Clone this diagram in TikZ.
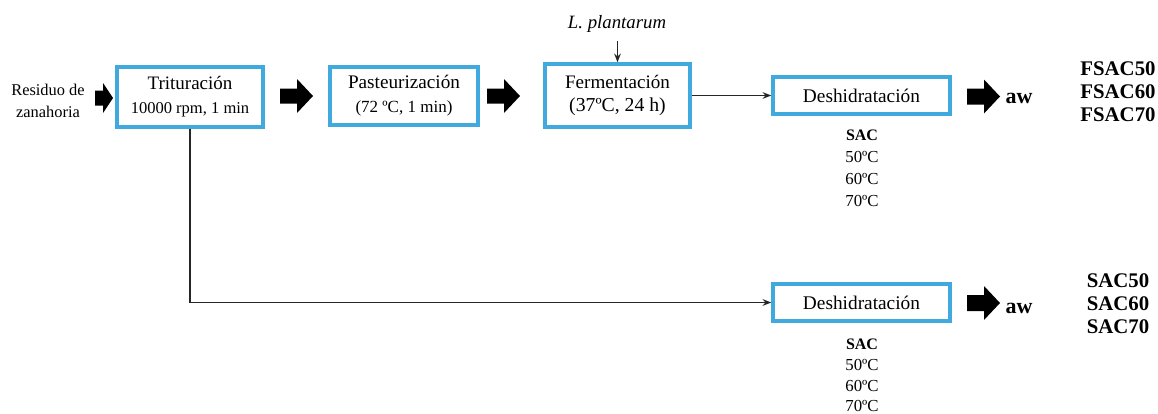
\documentclass[tikz,border=0pt]{standalone}
\usepackage{fontspec}
\setmainfont{Liberation Serif}
\usetikzlibrary{arrows.meta}
\definecolor{boxblue}{RGB}{64,170,222}
\newcommand\fsz[1]{\fontsize{#1}{#1}\selectfont}
\newcommand\blockarr[6]{% start x, tip x, center y, shaft half, head half, head length
  \fill[black] (#1,#3-#4) -- (#2-#6,#3-#4) -- (#2-#6,#3-#5) -- (#2,#3) -- (#2-#6,#3+#5) -- (#2-#6,#3+#4) -- (#1,#3+#4) -- cycle;}
\tikzset{
  procbox/.style={draw=boxblue, line width=2.6pt, fill=white, align=center, inner sep=0pt},
  thin/.style={line width=1.4pt, draw=black!85, -{Stealth[length=6.5pt,width=5pt]}},
  lbl/.style={inner sep=0pt, align=center},
}
\begin{document}
\begin{tikzpicture}[x=0.75pt,y=-0.75pt]
\useasboundingbox (0,0) rectangle (1158,414);

% process boxes
\node[procbox, minimum width=109.5pt, minimum height=45pt] (trit) at (190,97)
  {\fsz{14.25}Trituración\\[6pt]\fsz{12.4}10000 rpm, 1 min};
\node[procbox, minimum width=111pt, minimum height=43.5pt] (past) at (404,96)
  {\fsz{14.4}Pasteurización\\[6pt]\fsz{12.75}(72 ºC, 1 min)};
\node[procbox, minimum width=108.75pt, minimum height=47.25pt] (ferm) at (617.5,95.5)
  {\fsz{14.3}Fermentación\\[5pt]\fsz{14.8}(37ºC, 24 h)};
\node[procbox, minimum width=132.75pt, minimum height=27.75pt] (desh1) at (861.5,95.5)
  {\fsz{14.5}Deshidratación};
\node[procbox, minimum width=132.75pt, minimum height=27.75pt] (desh2) at (861.5,302.5)
  {\fsz{14.5}Deshidratación};

% input label
\node[lbl, anchor=base] (res) at (48,95) {\fsz{12.3}Residuo de};
\node[lbl, anchor=base] (zan) at (48,117) {\fsz{12.3}zanahoria};

% L. plantarum
\node[lbl, anchor=base] (lp) at (617,28) {\fsz{14.1}\itshape L. plantarum};
\draw[thin] (lp.south -| ferm.north) ++(0,9) coordinate (lpa) -- (ferm.north);

% block arrows
\blockarr{95}{113}{98}{7.5}{15}{10}
\blockarr{280}{313}{96}{7.5}{17}{16}
\blockarr{487}{520}{96}{7.5}{17}{16}
\blockarr{967}{1000}{96.5}{8}{17}{16}
\blockarr{967}{1000}{303}{8}{17}{16}

% thin connectors
\draw[thin] (ferm.east) -- (desh1.west);
\draw[thin] (trit.south) |- (desh2.west);

% aw
\node[lbl, anchor=base] (aw1) at (1019,103) {\fsz{16.5}\bfseries aw};
\node[lbl, anchor=base] (aw2) at (1019,313) {\fsz{16.5}\bfseries aw};

% outputs
\node[lbl, anchor=base] (f50) at (1118,75) {\fsz{15.6}\bfseries FSAC50};
\node[lbl, anchor=base] (f60) at (1118,98) {\fsz{15.6}\bfseries FSAC60};
\node[lbl, anchor=base] (f70) at (1118,121) {\fsz{15.6}\bfseries FSAC70};
\node[lbl, anchor=base] (s50) at (1118,287) {\fsz{15.6}\bfseries SAC50};
\node[lbl, anchor=base] (s60) at (1118,310) {\fsz{15.6}\bfseries SAC60};
\node[lbl, anchor=base] (s70) at (1118,333) {\fsz{15.6}\bfseries SAC70};

% SAC temperature lists
\node[lbl, anchor=base] (sa1) at (862,140) {\fsz{12}\bfseries SAC};
\node[lbl, anchor=base] (sa1a) at (862,162) {\fsz{12.6}50ºC};
\node[lbl, anchor=base] (sa1b) at (862,184) {\fsz{12.6}60ºC};
\node[lbl, anchor=base] (sa1c) at (862,206) {\fsz{12.6}70ºC};
\node[lbl, anchor=base] (sa2) at (862,349) {\fsz{12}\bfseries SAC};
\node[lbl, anchor=base] (sa2a) at (862,370) {\fsz{12.6}50ºC};
\node[lbl, anchor=base] (sa2b) at (862,391) {\fsz{12.6}60ºC};
\node[lbl, anchor=base] (sa2c) at (862,411.5) {\fsz{12.6}70ºC};
\end{tikzpicture}
\end{document}
